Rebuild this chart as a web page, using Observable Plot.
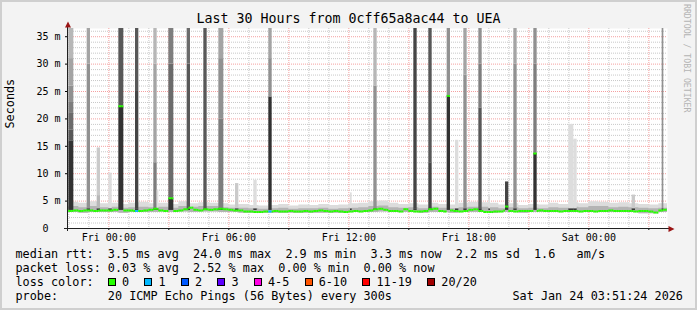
<!DOCTYPE html>
<html>
<head>
<meta charset="utf-8">
<script src="https://cdn.jsdelivr.net/npm/d3@7"></script>
<script src="https://cdn.jsdelivr.net/npm/@observablehq/plot@0.6"></script>
<style>
  html, body { margin:0; padding:0; background:#f3f3f3; }
  #wrap { position:relative; width:697px; height:310px; background:#f3f3f3; overflow:hidden;
          font-family:"DejaVu Sans Mono", monospace; color:#000; }
  #wrap > div { position:absolute; }
  #border { left:0; top:0; width:697px; height:310px; box-sizing:border-box; border:2px solid #cfcfcf; pointer-events:none; }
  #title { left:0; top:10.8px; width:697px; text-align:center; font-size:13.3px; line-height:16px; white-space:pre; }
  .row { left:15.5px; font-size:11.8px; line-height:14px; white-space:pre; }
  .box { display:inline-block; width:8px; height:8px; box-sizing:border-box; border:1px solid #000; vertical-align:baseline; margin-right:6.1px; }
  .lab { margin-right:15.3px; }
  #wm { left:691px; top:4px; transform-origin:0 0; transform:rotate(90deg); font-size:8.2px; line-height:9px;
        color:#b4b4b4; white-space:pre; }
</style>
</head>
<body>
<div id="wrap">
  <div id="plot" style="left:0;top:0"></div>
  <div id="title"></div>
  <div id="wm">RRDTOOL / TOBI OETIKER</div>
  <div class="row" id="row1" style="top:247.4px"></div>
  <div class="row" id="row2" style="top:261.4px"></div>
  <div class="row" id="row3" style="top:275.4px"></div>
  <div class="row" id="row4" style="top:289.4px"></div>
  <div class="row" id="stamp" style="top:289.4px; left:512.5px"></div>
  <div id="border"></div>
</div>
<script>
// ---------------- data ----------------
const titleText = "Last 30 Hours from 0cff65a8ac44 to UEA";
const yLabel = "Seconds";
const startTime = "Thu 21:56";
const endTime = "Sat 03:56";
const yMax = 36.5;
const yTicks = [0, 5, 10, 15, 20, 25, 30, 35];
const xTickHours = [0, 6, 12, 18, 24];
const xTickLabels = ["Fri 00:00", "Fri 06:00", "Fri 12:00", "Fri 18:00", "Sat 00:00"];

// median RTT (ms) in 15-minute blocks starting Thu 21:45
const medianStart = "Thu 21:45";
const medianRtt = [
  3.3,3.2,3.3,3.2,3.3,3.3,3.2,3.3, 3.3,3.3,3.4,3.3,3.3,3.3,3.2,3.2,
  3.3,3.4,3.6,3.3,3.2,3.3,3.2,3.3, 3.5,3.8,3.4,3.3,3.5,3.4,3.5,3.6,
  3.5,3.4,3.3,3.3,3.1,3.1,3.0,3.0, 3.1,3.1,3.2,3.1,3.1,3.2,3.1,3.1,
  3.2,3.1,3.2,3.3,3.2,3.1,3.2,3.1, 3.0,3.1,3.2,3.1,3.2,3.3,3.5,3.6,
  3.4,3.2,3.2,3.1,3.5,3.2,3.1,3.1, 3.2,3.5,3.6,3.2,3.1,3.3,3.2,3.1,
  3.2,3.4,3.5,3.2,3.0,3.0,3.1,3.1, 3.3,3.2,3.1,3.2,3.2,3.2,3.2,3.3,
  3.2,3.2,3.2,3.1,3.2,3.2,3.2,3.1, 3.2,3.2,3.1,3.2,3.2,3.3,3.2,3.2,
  3.2,3.2,3.1,3.2,3.2,3.1,2.9,3.3, 3.4
];

// baseline smoke envelope (ms) in 30-minute blocks starting Thu 21:30
const smokeStart = "Thu 21:30";
const smokeMin = [
  2.9,2.9,2.8,2.9, 2.9,2.9,2.8,2.9,2.9,2.9, 3.0,2.9,3.0,2.9,3.0,3.0, 2.9,2.9,2.8,2.8,
  2.8,2.8,2.8,2.8,2.8,2.8,2.8,2.8,2.8, 2.9,2.9,2.9,3.0,2.9, 2.9,2.9,2.8,2.9,2.9,2.8,
  2.9,2.9,2.9,2.8, 2.9,2.9,2.8,2.9,2.9, 2.9,2.9,2.9,2.9,2.9,2.9,2.9,2.9,2.9, 2.7,2.7,2.9
];
const smokeMid = [
  3.9,4.0,3.8,4.0, 3.8,3.9,3.7,3.8,3.9,3.8, 3.9,3.7,4.0,3.9,4.0,4.0, 3.8,3.7,3.7,3.6,
  3.5,3.6,3.7,3.5,3.6,3.6,3.7,3.5,3.6, 3.7,3.8,4.0,4.1,3.8, 3.7,3.8,3.6,3.9,3.7,3.6,
  3.8,3.9,3.9,3.8, 3.6,3.8,3.6,3.7,3.6, 3.8,3.7,3.9,3.8,4.0,4.0,3.8,3.9,3.8, 3.7,3.6,3.7
];
const smokeMax = [
  4.7,4.8,4.6,4.9, 4.5,4.6,4.4,4.6,4.8,4.5, 4.6,4.4,4.9,4.5,4.7,4.6, 4.5,4.3,4.4,4.2,
  4.1,4.2,4.4,4.1,4.3,4.2,4.4,4.2,4.3, 4.5,4.6,4.9,5.0,4.6, 4.4,4.5,4.3,4.6,4.4,4.3,
  4.6,4.8,4.7,4.6, 4.3,4.5,4.2,4.4,4.3, 4.6,4.4,4.7,4.5,4.9,4.8,4.6,4.7,4.5, 4.4,4.3,4.5
];

// high-latency steps: start time, number of 5-min steps, median (if raised), sorted pings p10..p20 (ms)
const spikeTimes = ["Thu 22:00","Thu 22:55","Thu 23:25","Fri 00:00","Fri 00:30","Fri 01:20","Fri 02:15","Fri 02:25",
  "Fri 03:00","Fri 03:55","Fri 04:45","Fri 05:30","Fri 06:20","Fri 07:15","Fri 08:00","Fri 12:05","Fri 13:15",
  "Fri 15:15","Fri 16:00","Fri 16:55","Fri 17:20","Fri 17:45","Fri 18:30","Fri 19:00","Fri 19:50","Fri 20:15",
  "Fri 21:15","Fri 23:00","Fri 23:15","Sat 02:10","Sat 03:40"];
const spikeSteps = [3,2,2,2,3,2,2,1, 3,2,2,3,2,2,2,1,2, 2,2,2,2,2,2,1,2,2, 2,3,2,2,1];
const spikeMedian = [null,null,null,null,22.3,null,null,null, 5.5,null,null,null,null,null,null,null,null,
  null,null,24.2,null,null,null,null,4.0,null, 13.7,null,null,null,null];
const spikePings = [
  [3.3,16,16,18,21,23,26,31,40,40,40],
  [3.3,3.6,3.6,3.6,3.6,3.6,30,40,40,40,40],
  [3.3,3.6,3.6,3.6,3.6,3.6,3.6,3.6,6,14.7,14.7],
  [3.3,3.6,3.6,3.6,3.6,3.6,3.6,3.6,3.6,3.6,10.1],
  [3.3,22.3,22.3,40,40,40,40,40,40,40,40],
  [3.3,3.6,25,40,40,40,40,40,40,40,40],
  [3.3,3.6,3.6,3.6,3.6,12,12,30,40,40,40],
  [3.3,3.6,3.6,3.6,3.6,3.6,3.6,3.6,3.6,3.6,7],
  [3.3,5.5,5.5,5.5,30,40,40,40,40,40,40],
  [3.3,3.6,3.6,30,40,40,40,40,40,40,40],
  [3.3,3.6,3.6,40,40,40,40,40,40,40,40],
  [3.3,3.6,3.6,3.6,3.6,20,31,40,40,40,40],
  [3.3,3.6,3.6,3.6,3.6,3.6,3.6,3.6,3.6,8.2,8.2],
  [3.3,3.6,3.6,3.6,3.6,3.6,3.6,3.6,3.6,3.6,8.8],
  [3.3,24,24,24,24,24,31,40,40,40,40],
  [3.3,3.6,3.6,3.6,3.6,3.6,3.6,3.6,3.6,3.6,6.5],
  [3.3,3.6,3.6,3.6,3.6,3.6,26,26,40,40,40],
  [3.3,3.6,40,40,40,40,40,40,40,40,40],
  [3.3,3.6,12,40,40,40,40,40,40,40,40],
  [3.3,24.2,24.2,24.2,24.2,24.2,40,40,40,40,40],
  [3.3,3.6,3.6,3.6,3.6,3.6,3.6,3.6,3.6,3.6,16.1],
  [3.3,3.6,3.6,3.6,3.6,3.6,28,40,40,40,40],
  [3.3,3.6,3.6,22,22,30,40,40,40,40,40],
  [3.3,3.6,3.6,3.6,3.6,3.6,3.6,3.6,3.6,3.6,6.1],
  [3.3,4.0,8.5,8.5,8.5,8.5,8.5,8.5,8.5,8.5,8.5],
  [3.3,3.6,3.6,3.6,3.6,3.6,30,40,40,40,40],
  [3.3,13.7,13.7,13.7,13.7,30,40,40,40,40,40],
  [3.3,3.6,3.6,3.6,3.6,3.6,3.6,3.6,3.6,3.6,19],
  [3.3,3.6,3.6,3.6,3.6,3.6,3.6,3.6,3.6,3.6,16.3],
  [3.3,3.6,3.6,3.6,3.6,3.6,3.6,3.6,3.6,6.1,6.1],
  [3.3,3.6,3.6,3.6,3.6,3.6,40,40,40,40,40]
];

// packet loss events (lost pings out of 20)
const lossTimes = ["Fri 01:20","Fri 01:25","Fri 08:00","Fri 08:05"];
const lossCounts = [1,1,1,1];

// legend
const lossLabels = ["0","1","2","3","4-5","6-10","11-19","20/20"];
const lossUpper  = [0,1,2,3,5,10,19,20];
const lossColors = ["#26ff00","#00b8ff","#0059ff","#5e00ff","#ff00e4","#ff5500","#ff0000","#a10000"];
const rttStats = ["3.5","24.0","2.9","3.3","2.2"];
const rttStatNames = ["avg","max","min","now","sd"];
const rttAmS = "1.6";
const lossStats = ["0.03","2.52","0.00","0.00"];
const lossStatNames = ["avg","max","min","now"];
const probeText = "20 ICMP Echo Pings (56 Bytes) every 300s";
const stampText = "Sat Jan 24 03:51:24 2026";

// ---------------- build ----------------
const dayOffset = {Thu: -24, Fri: 0, Sat: 24};
const parseT = s => { const [d, hm] = s.split(" "); const [h, m] = hm.split(":").map(Number); return dayOffset[d] + h + m / 60; };
const STEP = 5 / 60;
const xStart = parseT(startTime), xEnd = parseT(endTime);
const lossColor = n => lossColors[lossUpper.findIndex(u => n <= u)];
const shade = j => { const g = 50 + 19 * j; return `rgb(${g},${g},${g})`; };

const mStart = parseT(medianStart);
const sStart = parseT(smokeStart);
const smokeRows = smokeMin.map((v, i) => ({t: sStart + i * 0.5, lo: v, mid: smokeMid[i], hi: smokeMax[i]}));
smokeRows.push({...smokeRows[smokeRows.length - 1], t: sStart + smokeMin.length * 0.5});

const spikeRects = [];
spikeTimes.forEach((s, i) => {
  const t = parseT(s), p = spikePings[i];
  for (let j = 0; j < 10; j++) {
    const lo = p[j], hi = Math.min(p[j + 1], yMax);
    if (hi > lo) spikeRects.push({x1: t, x2: t + spikeSteps[i] * STEP, y1: lo, y2: hi, fill: shade(j)});
  }
});

const stepStart = parseT("Thu 21:55");
const medSteps = d3.range(361).map(i => {
  const t = stepStart + i * STEP;
  let m = medianRtt[Math.max(0, Math.min(medianRtt.length - 1, Math.floor((t - mStart) / 0.25 + 1e-6)))];
  spikeTimes.forEach((s, j) => {
    const ts = parseT(s);
    if (spikeMedian[j] != null && t >= ts - 1e-6 && t < ts + spikeSteps[j] * STEP - 1e-6) m = spikeMedian[j];
  });
  const li = lossTimes.findIndex(s => Math.abs(parseT(s) - t) < 1e-6);
  return {t, m, c: lossColor(li >= 0 ? lossCounts[li] : 0)};
});

const majorX = d3.range(0, 28, 3);
const minorX = d3.range(-2, 28).filter(h => h % 3 !== 0);
const majorY = d3.range(5, 36, 5);
const minorY = d3.range(1, 37).filter(v => v % 5 !== 0);

const arrowUp = {draw(c) { c.moveTo(0, -3); c.lineTo(3, 3); c.lineTo(-3, 3); c.closePath(); }};
const arrowRight = {draw(c) { c.moveTo(3, 0); c.lineTo(-3, -3); c.lineTo(-3, 3); c.closePath(); }};

const chart = Plot.plot({
  width: 697, height: 246,
  marginTop: 28, marginBottom: 18, marginLeft: 67, marginRight: 30,
  style: {background: "transparent", fontFamily: "'DejaVu Sans Mono', monospace", fontSize: "10px", color: "#000"},
  x: {domain: [xStart, xEnd]},
  y: {domain: [0, yMax]},
  color: {type: "identity"},
  marks: [
    Plot.frame({fill: "white", stroke: "none"}),
    Plot.ruleY(minorY, {stroke: "#c8c8c8", strokeDasharray: "1,1"}),
    Plot.ruleX(minorX, {stroke: "#c8c8c8", strokeDasharray: "1,1"}),
    Plot.ruleY(majorY, {stroke: "#f4a0a0", strokeDasharray: "1,1"}),
    Plot.ruleX(majorX, {stroke: "#f4a0a0", strokeDasharray: "1,1"}),
    Plot.areaY(smokeRows, {x: "t", y1: "lo", y2: "hi", curve: "step-after", fill: "#dcdcdc", clip: true}),
    Plot.areaY(smokeRows, {x: "t", y1: "lo", y2: "mid", curve: "step-after", fill: "#b4b4b4", clip: true}),
    Plot.rect(spikeRects, {x1: "x1", x2: "x2", y1: "y1", y2: "y2", fill: "fill", clip: true}),
    Plot.ruleY(medSteps, {x1: "t", x2: d => d.t + STEP, y: "m", stroke: "c", strokeWidth: 2, clip: true}),
    Plot.axisY({ticks: yTicks, tickFormat: d => d === 0 ? "0\u00a0\u00a0" : `${d} m`, tickSize: 2, tickPadding: 5, label: null}),
    Plot.axisX({ticks: majorX, tickFormat: d => { const i = xTickHours.indexOf(d); return i >= 0 ? xTickLabels[i] : ""; }, tickSize: 2, tickPadding: 3, label: null}),
    Plot.ruleY([0], {x1: xStart - 0.15, x2: xEnd + 0.15, stroke: "#202020"}),
    Plot.ruleX([xStart], {y1: -0.55, y2: yMax + 0.6, stroke: "#202020"}),
    Plot.dot([xStart], {x: d => d, y: () => yMax, dx: 0.5, dy: -4, symbol: arrowUp, r: 3, fill: "#9a1414", stroke: "none"}),
    Plot.dot([xEnd], {x: d => d, y: () => 0, dx: 4, dy: 0.5, symbol: arrowRight, r: 3, fill: "#9a1414", stroke: "none"}),
    Plot.text([yLabel], {frameAnchor: "left", dx: -57, rotate: -90, fontSize: 11.8, fill: "#000"})
  ]
});
document.getElementById("plot").appendChild(chart);

document.getElementById("title").textContent = titleText;
document.getElementById("row1").textContent = "median rtt:  " +
  rttStats.map((v, i) => `${v} ms ${rttStatNames[i]}`).join("  ") + "  " + rttAmS + "   am/s";
document.getElementById("row2").textContent = "packet loss: " +
  lossStats.map((v, i) => `${v} % ${lossStatNames[i]}`).join("  ");
const row3 = document.getElementById("row3");
row3.appendChild(document.createTextNode("loss color:  "));
lossLabels.forEach((l, i) => {
  const b = document.createElement("span"); b.className = "box"; b.style.background = lossColors[i];
  const s = document.createElement("span"); s.className = "lab"; s.textContent = l;
  row3.appendChild(b); row3.appendChild(s);
});
document.getElementById("row4").textContent = "probe:       " + probeText;
document.getElementById("stamp").textContent = stampText;
</script>
</body>
</html>
